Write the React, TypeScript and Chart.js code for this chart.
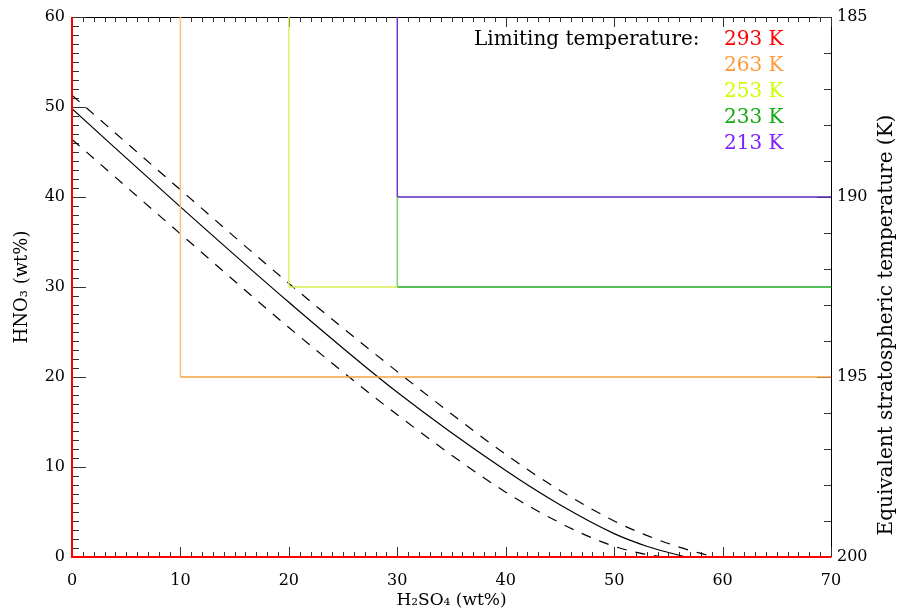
import React, { useEffect, useRef } from 'react';
import { Chart, registerables } from 'chart.js';

Chart.register(...registerables);

// Central curve and uncertainty bounds (H2SO4 wt% vs HNO3 wt%)
const solidX = [0, 10, 20, 30, 40, 45, 50, 53, 55, 56.6];
const solidY = [49.8, 38.9, 28.3, 18.3, 9.6, 5.8, 2.6, 1.2, 0.5, 0];
const upperX = [0, 10, 20, 30, 40, 45, 50, 53, 56, 58, 59.3];
const upperY = [51.3, 40.8, 30.4, 20.6, 11.4, 7.4, 4.0, 2.4, 1.1, 0.4, 0];
const lowerX = [0, 10, 20, 30, 40, 45, 48, 50.5, 52.5, 54.5];
const lowerY = [46.4, 35.9, 25.5, 15.8, 7.2, 3.8, 2.1, 1.0, 0.4, 0];

// Limiting temperature boundaries
const limitLabels = ['293 K', '263 K', '253 K', '233 K', '213 K'];
const limitX = [
  [0, 0, 70],
  [10, 10, 70],
  [20, 20, 30],
  [30, 30, 70],
  [30, 30, 70],
];
const limitY = [
  [60, 0, 0],
  [60, 20, 20],
  [60, 30, 30],
  [40, 30, 30],
  [60, 40, 40],
];
const legendColors = ['#ff0000', '#ff9a3c', '#ccff00', '#11aa11', '#7f1fff'];
const vertColors = ['#ff0000', '#fcbf7c', '#dcf060', '#72d472', '#6a3ad4'];
const horzColors = ['#ff0000', '#f5a040', '#d8f050', '#1faa1f', '#5a2ac0'];

const xTicks = [0, 10, 20, 30, 40, 50, 60, 70];
const yTicks = [0, 10, 20, 30, 40, 50, 60];
const y2Ticks = [185, 190, 195, 200];

const FONT = "'DejaVu Serif', serif";

const pts = (xs: number[], ys: number[]) => xs.map((x, i) => ({ x, y: ys[i] }));

const decor = {
  id: 'decor',
  beforeDatasetsDraw(chart: any) {
    const { ctx, chartArea: a, scales } = chart;
    const sx = scales.x, sy = scales.y, sy2 = scales.y2;
    ctx.save();
    ctx.strokeStyle = '#000';
    ctx.lineWidth = 1;
    ctx.beginPath();
    ctx.moveTo(a.left, a.top + 0.5);
    ctx.lineTo(a.right + 0.5, a.top + 0.5);
    ctx.lineTo(a.right + 0.5, a.bottom);
    ctx.lineTo(a.left, a.bottom);
    ctx.stroke();
    ctx.strokeStyle = '#333';
    ctx.beginPath();
    for (let v = xTicks[0]; v <= xTicks[xTicks.length - 1]; v++) {
      const px = Math.round(sx.getPixelForValue(v)) + 0.5;
      const len = v % 10 === 0 ? 10 : 5;
      ctx.moveTo(px, a.bottom);
      ctx.lineTo(px, a.bottom - len);
      ctx.moveTo(px, a.top);
      ctx.lineTo(px, a.top + len);
    }
    for (let v = yTicks[0]; v <= yTicks[yTicks.length - 1]; v++) {
      const py = Math.round(sy.getPixelForValue(v)) + 0.5;
      const len = v % 10 === 0 ? 14 : 7;
      ctx.moveTo(a.left, py);
      ctx.lineTo(a.left + len, py);
    }
    for (let v = y2Ticks[0]; v <= y2Ticks[y2Ticks.length - 1]; v++) {
      const py = Math.round(sy2.getPixelForValue(v)) + 0.5;
      const len = v % 5 === 0 ? 14 : 7;
      ctx.moveTo(a.right, py);
      ctx.lineTo(a.right - len, py);
    }
    ctx.stroke();
    ctx.restore();
  },
  afterDraw(chart: any) {
    const { ctx } = chart;
    ctx.save();
    ctx.textBaseline = 'middle';
    ctx.font = `20px ${FONT}`;
    ctx.fillStyle = '#000';
    ctx.textAlign = 'left';
    ctx.fillText('Limiting temperature:', 474, 40);
    limitLabels.forEach((t, i) => {
      ctx.fillStyle = legendColors[i];
      ctx.fillText(t, 724, 40 + i * 26);
    });
    // right axis title, reading bottom to top
    ctx.fillStyle = '#000';
    ctx.font = `20px ${FONT}`;
    ctx.textAlign = 'center';
    ctx.translate(887, 325);
    ctx.rotate(-Math.PI / 2);
    ctx.fillText('Equivalent stratospheric temperature (K)', 0, 0);
    ctx.restore();
  },
};

export default function App() {
  const ref = useRef<HTMLCanvasElement>(null);
  useEffect(() => {
    if (!ref.current) return;
    const segColor = (i: number) => (c: any) => {
      const p0 = c.p0.parsed, p1 = c.p1.parsed;
      return p0.x === p1.x ? vertColors[i] : horzColors[i];
    };
    const limitSets = limitLabels.map((l, i) => ({
      label: l,
      data: pts(limitX[i], limitY[i]),
      borderColor: horzColors[i],
      borderWidth: i === 0 ? 2 : 1.5,
      pointRadius: 0,
      showLine: true,
      tension: 0,
      clip: 4,
      segment: { borderColor: segColor(i) },
    }));
    const curve = (label: string, xs: number[], ys: number[], dash: number[]) => ({
      label,
      data: pts(xs, ys),
      borderColor: '#000',
      borderWidth: 1.2,
      borderDash: dash,
      pointRadius: 0,
      showLine: true,
      cubicInterpolationMode: 'monotone',
    });
    const chart = new Chart(ref.current, {
      type: 'scatter',
      data: {
        datasets: [
          ...limitSets,
          curve('upper', upperX, upperY, [10, 9]),
          curve('lower', lowerX, lowerY, [10, 9]),
          curve('central', solidX, solidY, []),
        ] as any,
      },
      options: {
        animation: false,
        responsive: false,
        layout: { padding: { top: 17, left: 0, right: 0, bottom: 0 } },
        plugins: { legend: { display: false }, tooltip: { enabled: false } },
        scales: {
          x: {
            type: 'linear',
            min: 0,
            max: 70,
            afterBuildTicks: (s: any) => { s.ticks = xTicks.map((v) => ({ value: v })); },
            afterFit: (s: any) => { s.height = 54; },
            grid: { display: false, drawTicks: false },
            border: { display: false },
            ticks: { color: '#000', font: { family: FONT, size: 16 }, padding: 14, maxRotation: 0 },
            title: {
              display: true,
              text: 'H₂SO₄ (wt%)',
              color: '#000',
              font: { family: FONT, size: 17 },
              padding: { top: 0, bottom: 0 },
            },
          },
          y: {
            type: 'linear',
            position: 'left',
            min: 0,
            max: 60,
            afterBuildTicks: (s: any) => { s.ticks = yTicks.map((v) => ({ value: v })); },
            afterFit: (s: any) => { s.width = 72; },
            grid: { display: false, drawTicks: false },
            border: { display: false },
            ticks: { color: '#000', font: { family: FONT, size: 16 }, padding: 7 },
            title: {
              display: true,
              text: 'HNO₃ (wt%)',
              color: '#000',
              font: { family: FONT, size: 18 },
              padding: { top: 12, bottom: 0 },
            },
          },
          y2: {
            type: 'linear',
            position: 'right',
            min: 185,
            max: 200,
            reverse: true,
            afterBuildTicks: (s: any) => { s.ticks = y2Ticks.map((v) => ({ value: v })); },
            afterFit: (s: any) => { s.width = 69; },
            grid: { display: false, drawTicks: false },
            border: { display: false },
            ticks: { color: '#000', font: { family: FONT, size: 16 }, padding: 6 },
          },
        },
      } as any,
      plugins: [decor],
    });
    return () => chart.destroy();
  }, []);
  return (
    <div style={{ position: 'fixed', left: 0, top: 0, width: 900, height: 611, background: '#fff' }}>
      <canvas ref={ref} width={900} height={611} />
    </div>
  );
}
